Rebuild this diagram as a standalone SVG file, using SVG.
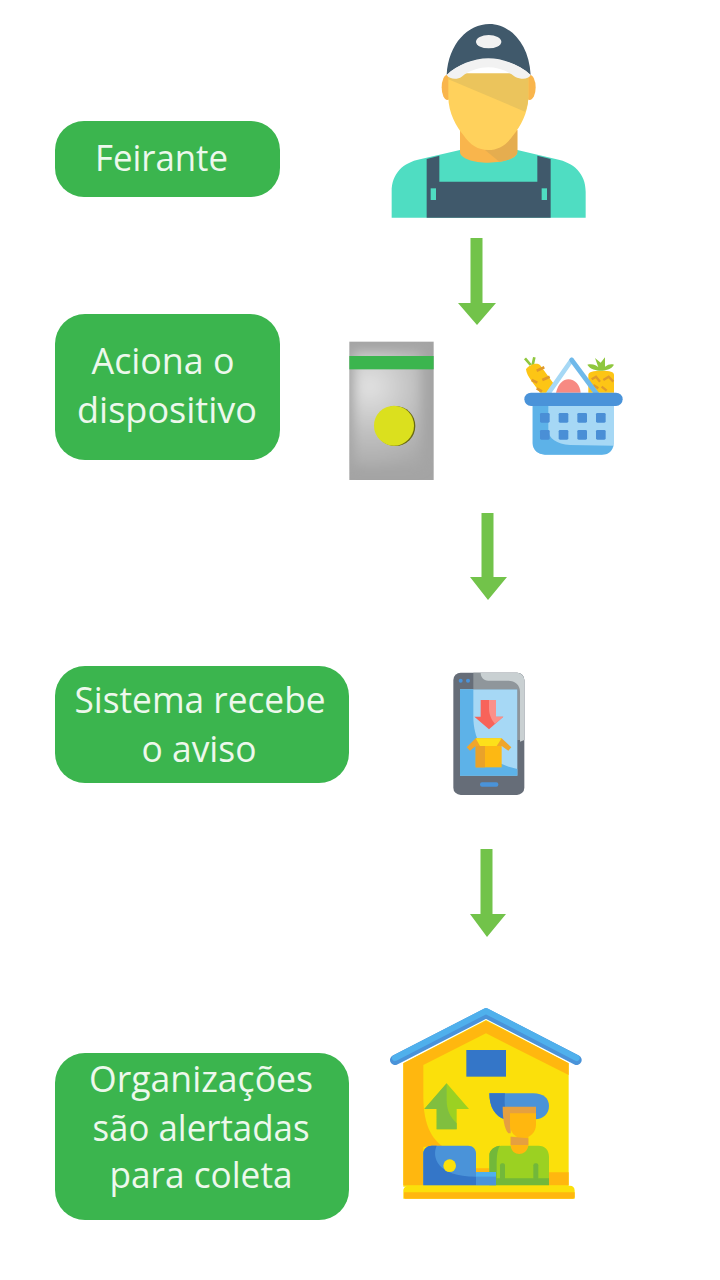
<svg xmlns="http://www.w3.org/2000/svg" width="720" height="1280" viewBox="0 0 720 1280">
<style>
.pill{fill:#3bb54e}
.t{font-family:"Open Sans","Noto Sans","Liberation Sans",sans-serif;font-size:36px;fill:#edf8ec;text-anchor:middle}
.arrow{fill:#72c34a}
</style>
<defs>
<radialGradient id="gr" gradientUnits="userSpaceOnUse" cx="90" cy="170" r="260"><stop offset="0" stop-color="#e2e2e2"/><stop offset=".5" stop-color="#c2c2c2"/><stop offset="1" stop-color="#a8a8a8"/></radialGradient>
<filter id="soft" x="-30%" y="-30%" width="160%" height="160%"><feGaussianBlur stdDeviation="16"/></filter>
<clipPath id="devclip"><rect x="28" y="35" width="253" height="415"/></clipPath>
</defs>
<rect width="720" height="1280" fill="#fff"/>
<g id="node-feirante"><rect class="pill" x="55" y="121" width="225" height="76" rx="29"/><text class="t" x="161.500" y="171" textLength="133" lengthAdjust="spacingAndGlyphs">Feirante</text></g>
<g id="node-aciona"><rect class="pill" x="55" y="314" width="225" height="146" rx="30"/><text class="t" x="163" y="374" textLength="143" lengthAdjust="spacingAndGlyphs">Aciona o</text><text class="t" x="167" y="423" textLength="180" lengthAdjust="spacingAndGlyphs">dispositivo</text></g>
<g id="node-sistema"><rect class="pill" x="55" y="666" width="294" height="117" rx="30"/><text class="t" x="200" y="713" textLength="251" lengthAdjust="spacingAndGlyphs">Sistema recebe</text><text class="t" x="199" y="762" textLength="115" lengthAdjust="spacingAndGlyphs">o aviso</text></g>
<g id="node-organizacoes"><rect class="pill" x="55" y="1053" width="294" height="167" rx="30"/><text class="t" x="201" y="1092" textLength="224" lengthAdjust="spacingAndGlyphs">Organizações</text><text class="t" x="201" y="1141" textLength="217" lengthAdjust="spacingAndGlyphs">são alertadas</text><text class="t" x="201" y="1188" textLength="183" lengthAdjust="spacingAndGlyphs">para coleta</text></g>

<g id="connectors">
<path class="arrow" d="M470.500 238H482.500V303H496L477 325L458 303H470.500Z"/>
<path class="arrow" d="M481.500 513H493.500V577H507L488 600L470 577H481.500Z"/>
<path class="arrow" d="M480.500 849H492.500V914H506L487 937L470 914H480.500Z"/>
</g>

<g id="icon-farmer" transform="translate(380 10) scale(.33333)">
<path d="M35 623V545C35 490 70 458 120 448L240 420H412L530 448C580 458 617 490 617 545V623Z" fill="#4fddc2"/>
<path d="M240 360H412V425C412 445 370 458 325 458C280 458 240 445 240 425Z" fill="#f9b54c"/>
<path d="M412 360V425C412 440 385 452 358 455L315 420C350 420 385 400 412 360Z" fill="#e5ad4f"/>
<ellipse cx="202" cy="232" rx="17" ry="38" fill="#f9b54c"/><ellipse cx="449" cy="232" rx="18" ry="38" fill="#f9b54c"/>
<path d="M205 195H445V260C445 310 420 350 400 375C380 405 355 420 325 420C295 420 270 405 250 375C230 350 205 310 205 260Z" fill="#ffd15c"/>
<path d="M205 208L435 305C442 290 445 275 445 260V190H205Z" fill="#ebc45c"/>
<path d="M200 195C205 100 265 42 328 42C390 42 447 100 452 195C420 165 370 148 325 148C280 148 232 165 200 195Z" fill="#40596b"/>
<path d="M200 195C232 165 280 145 325 145C370 145 420 165 452 195C445 208 425 210 405 200C380 180 350 172 325 172C300 172 270 180 245 200C232 210 208 208 200 195Z" fill="#f2f2f2"/>
<ellipse cx="326" cy="95" rx="38" ry="20" fill="#f2f2f2"/>
<path d="M140 623V447L178 437V515H472V437L512 447V623Z" fill="#40596b"/>
<rect x="152" y="535" width="16" height="35" fill="#4fddc2"/><rect x="485" y="535" width="16" height="35" fill="#4fddc2"/>
</g>

<g id="icon-device" transform="translate(340 330) scale(.33333)">
<rect x="28" y="35" width="253" height="415" fill="#a4a4a4"/>
<g clip-path="url(#devclip)"><rect x="40" y="65" width="205" height="345" fill="url(#gr)" filter="url(#soft)"/></g>
<rect x="28" y="78" width="253" height="40" fill="#3bb54e"/>
<circle cx="166" cy="288" r="60" fill="#6a6a10"/>
<circle cx="162" cy="287" r="60" fill="#dbe01e"/>
</g>

<g id="icon-basket" transform="translate(340 330) scale(.33333)">
<path d="M572 105L555 85M578 105L583 82" stroke="#8fc73e" stroke-width="8" fill="none"/>
<path d="M558 118C565 105 590 95 600 105L640 160L625 188H600C585 165 560 140 558 118Z" fill="#fdc515"/>
<g stroke="#e09a2b" stroke-width="8" fill="none"><path d="M590 122L613 112M607 150L629 140M575 150L592 158M590 175L606 184"/></g>
<path d="M745 188V135C745 125 760 122 785 122C810 122 822 125 822 135V188Z" fill="#fdc515"/>
<path d="M755 148L768 140L780 155M790 150L806 140L820 155M760 165L775 175M785 170L800 182" stroke="#e09a2b" stroke-width="7" fill="none"/>
<path d="M742 104C760 100 770 108 775 112L765 84L782 98L795 82L795 110C805 103 812 101 822 104C815 118 795 122 782 122C770 122 750 118 742 104Z" fill="#8fc73e"/>
<path d="M648 188C655 160 670 148 685 148C705 148 720 165 722 188Z" fill="#f78a82"/>
<path d="M695 90L625 190" stroke="#a6d8f5" stroke-width="14" fill="none" stroke-linecap="round"/>
<path d="M695 90L775 198" stroke="#6fb9ea" stroke-width="14" fill="none" stroke-linecap="round"/>
<path d="M578 225H822V340C822 360 805 374 785 374H615C595 374 578 360 578 340Z" fill="#a6d8f5"/>
<path d="M578 225H625V300C625 325 650 342 690 345L820 347C815 365 805 374 785 374H615C595 374 578 360 578 340Z" fill="#5db2e8"/>
<rect x="553" y="188" width="295" height="40" rx="20" fill="#4a93d9"/>
<g fill="#4a8fd6"><rect x="600" y="249" width="29" height="29" rx="4"/><rect x="656" y="249" width="29" height="29" rx="4"/><rect x="712" y="249" width="29" height="29" rx="4"/><rect x="768" y="249" width="29" height="29" rx="4"/><rect x="600" y="300" width="29" height="29" rx="4"/><rect x="656" y="300" width="29" height="29" rx="4"/><rect x="712" y="300" width="29" height="29" rx="4"/><rect x="768" y="300" width="29" height="29" rx="4"/></g>
</g>

<g id="icon-phone" transform="translate(440 660) scale(.33333)">
<rect x="40" y="38" width="213" height="367" rx="22" fill="#666d78"/>
<path d="M100 38H232C245 38 253 50 253 62V240H232V88H100Z" fill="#8f969b"/>
<path d="M122 38H230C245 38 253 50 253 62V240L240 245V95C240 75 225 62 205 62H145C130 62 122 50 122 38Z" fill="#c9d0d2"/>
<rect x="60" y="88" width="172" height="259" fill="#a6d8f5"/>
<path d="M60 88H100V170C100 250 145 310 232 327V347H60Z" fill="#5db2e8"/>
<path d="M122 120H168V170H190L147 208L103 170H122Z" fill="#f8635a"/>
<path d="M147 120H168V170H190L165 192C155 180 147 165 147 145Z" fill="#fb9089"/>
<path d="M107 258H185V322H107Z" fill="#fdb813"/>
<path d="M107 258H135V322H107Z" fill="#e9a22a"/>
<path d="M107 235L80 262L90 272L107 258H185L205 272L214 262L185 235Z" fill="#f0a52b"/>
<path d="M107 235H185L170 258H120Z" fill="#fde01a"/>
<rect x="120" y="367" width="55" height="13" rx="6" fill="#4a93d9"/>
<circle cx="62" cy="62" r="6" fill="#4a93d9"/><circle cx="84" cy="62" r="6" fill="#4a93d9"/>
</g>

<g id="icon-warehouse" transform="translate(380 1000) scale(.33333)">
<path d="M70 190L318 60L566 190V560H70Z" fill="#fbe00b"/>
<path d="M70 190L318 62L566 190V225L318 100L130 195V290C130 380 160 420 190 440H130V556H70Z" fill="#ffb70f"/>
<path d="M288 505H328V516H288ZM507 517H566V556H507Z" fill="#ffb70f"/>
<path d="M45 180L318 40L590 180" fill="none" stroke="#4a93d9" stroke-width="30" stroke-linecap="round" stroke-linejoin="round"/>
<path d="M45 174L318 33L590 174" fill="none" stroke="#4fb0ec" stroke-width="18" stroke-linecap="round" stroke-linejoin="round"/>
<rect x="259" y="150" width="119" height="80" fill="#3476c8"/>
<path d="M200 250L267 327H230V388H170V327H133Z" fill="#9bd122"/>
<path d="M200 250L133 327H170V388H230V370C210 350 200 330 200 300Z" fill="#80bf3f"/>
<path d="M328 280H460C490 280 507 295 507 318C507 340 490 358 465 358H375C345 350 328 320 328 280Z" fill="#4a93d9"/>
<path d="M328 280H375C372 320 375 340 395 358H375C345 350 328 320 328 280Z" fill="#3476c8"/>
<path d="M368 320H468V345H392V400H385C372 385 368 350 368 320Z" fill="#e5a040"/>
<path d="M390 340H468V375C468 395 450 415 428 415C405 415 390 395 390 375Z" fill="#ffb70f"/>
<path d="M392 410H445V445C445 460 430 465 418 465C405 465 392 460 392 445Z" fill="#ffb70f"/>
<path d="M392 410L445 415V435H392Z" fill="#e5a040"/>
<path d="M328 465C328 450 345 437 365 437H392C395 470 440 470 445 437H475C495 437 507 450 507 470V556H328Z" fill="#9bd122"/>
<path d="M328 465C328 450 345 437 360 437C350 450 350 480 350 500V535H507V556H328Z" fill="#72b83a"/>
<rect x="360" y="490" width="15" height="50" rx="6" fill="#72b83a"/><rect x="460" y="490" width="15" height="50" rx="6" fill="#72b83a"/>
<path d="M130 460C130 447 142 437 155 437H265C278 437 288 447 288 460V556H130Z" fill="#4a93d9"/>
<path d="M130 460C130 447 142 437 155 437H170C155 470 170 530 288 530V556H130Z" fill="#3476c8"/>
<circle cx="209" cy="497" r="19" fill="#fbe00b"/>
<rect x="288" y="516" width="60" height="40" fill="#4fb0ec"/><rect x="288" y="530" width="60" height="26" fill="#4a93d9"/>
<path d="M70 572C70 562 78 557 86 557H570C578 557 584 562 584 572V596H70Z" fill="#fbe00b"/>
<path d="M72 577H584V590C584 594 581 596 578 596H76C73 596 72 594 72 590Z" fill="#ffb70f"/>
</g>
</svg>
